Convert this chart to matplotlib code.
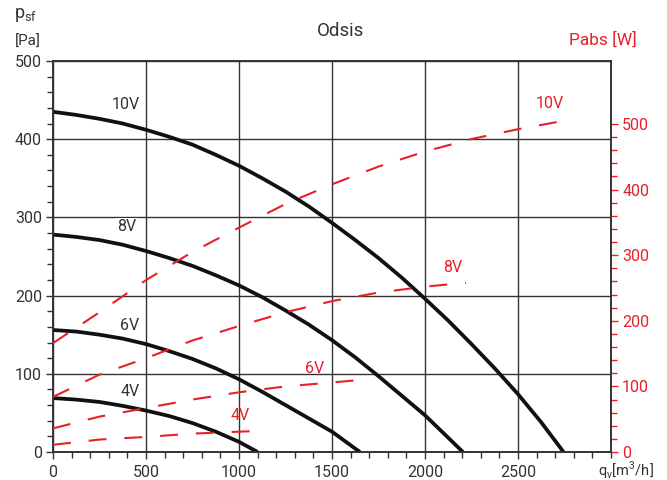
import matplotlib.pyplot as plt
from matplotlib.ticker import MultipleLocator, FixedLocator

plt.rcParams['font.family'] = ['Roboto', 'DejaVu Sans']

ROJO = '#e8202a'
GRIS = '#333333'

# Curvas de presion (p_sf [Pa]) frente a caudal (q_v [m3/h])
q_10v = [0, 125, 250, 375, 500, 625, 750, 875, 1000, 1125, 1250, 1375, 1500, 1625,
         1750, 1875, 2000, 2125, 2250, 2375, 2500, 2625, 2745]
p_10v = [435, 431, 426, 420, 412, 403, 393, 380, 366, 350, 333, 314, 293, 271,
         248, 223, 196, 168, 138, 107, 74, 38, 0]
q_8v = [0, 125, 250, 375, 500, 625, 750, 875, 1000, 1125, 1250, 1375, 1500, 1625,
        1750, 1875, 2000, 2100, 2204]
p_8v = [278, 275, 271, 265, 257, 248, 238, 226, 213, 198, 181, 163, 143, 121,
        97, 72, 47, 24, 0]
q_6v = [0, 125, 250, 375, 500, 625, 750, 875, 1000, 1125, 1250, 1375, 1500, 1575, 1650]
p_6v = [156, 154, 150, 145, 138, 129, 119, 107, 93, 77, 60, 43, 26, 13, 0]
q_4v = [0, 125, 250, 375, 500, 625, 750, 875, 1000, 1100]
p_4v = [69, 67, 64, 59, 53, 46, 37, 26, 13, 0]

# Curvas de potencia absorbida (Pabs [W])
qw_10v = [0, 250, 500, 750, 1000, 1250, 1500, 1750, 2000, 2250, 2500, 2750]
w_10v = [166, 213, 262, 305, 342, 378, 408, 435, 458, 477, 492, 505]
qw_8v = [0, 250, 500, 750, 1000, 1250, 1500, 1750, 2000, 2220]
w_8v = [84, 118, 143, 170, 192, 213, 230, 243, 252, 258]
qw_6v = [0, 250, 500, 750, 1000, 1250, 1500, 1660]
w_6v = [36, 54, 67, 80, 91, 100, 106, 110]
qw_4v = [0, 250, 500, 750, 1000, 1100]
w_4v = [11, 19, 23, 28, 31, 32]

fig = plt.figure(figsize=(6.67, 4.8), dpi=100)
ax = fig.add_axes([0.0795, 0.0583, 0.8365, 0.8147])
ax2 = ax.twinx()

# Presion
for q, p in [(q_10v, p_10v), (q_8v, p_8v), (q_6v, p_6v), (q_4v, p_4v)]:
    ax.plot(q, p, color='#111111', lw=2.7, solid_capstyle='butt', solid_joinstyle='round', zorder=3)

# Potencia
for q, w in [(qw_10v, w_10v), (qw_8v, w_8v), (qw_6v, w_6v), (qw_4v, w_4v)]:
    ax2.plot(q, w, color=ROJO, lw=1.5, dashes=(8.6, 8.6), zorder=3)

# Etiquetas de velocidad
caja = dict(facecolor='white', edgecolor='none', pad=1)
for txt, x, y in [('10V', 392, 444), ('8V', 397, 288), ('6V', 414, 162), ('4V', 414, 77)]:
    ax.text(x, y, txt, color=GRIS, fontsize=11.5, ha='center', va='center', bbox=caja, zorder=4)
for txt, x, y in [('10V', 2669, 531), ('8V', 2148, 281), ('6V', 1407, 128), ('4V', 1004, 55)]:
    ax2.text(x, y, txt, color=ROJO, fontsize=11.5, ha='center', va='center', zorder=4)

ax.set_xlim(0, 3000)
ax.set_ylim(0, 500)
ax2.set_ylim(0, 596)

ax.xaxis.set_major_locator(FixedLocator(range(0, 2501, 500)))
ax.xaxis.set_minor_locator(MultipleLocator(100))
ax.yaxis.set_major_locator(MultipleLocator(100))
ax.yaxis.set_minor_locator(MultipleLocator(20))
ax2.yaxis.set_major_locator(FixedLocator(range(0, 501, 100)))
ax2.yaxis.set_minor_locator(FixedLocator(range(0, 501, 20)))

ax.grid(True, which='major', color=GRIS, lw=1.0)
ax.set_axisbelow(True)
ax.tick_params(which='major', length=5, width=1, color=GRIS, labelcolor=GRIS, labelsize=11.5, pad=3)
ax.tick_params(which='minor', length=4, width=1, color=GRIS)
ax2.tick_params(which='major', length=5, width=1, color=ROJO, labelcolor=ROJO, labelsize=11.5, pad=3)
ax2.tick_params(which='minor', length=4, width=1, color=ROJO)
ax.tick_params(axis='x', pad=4)

for a in (ax, ax2):
    for s in a.spines.values():
        s.set_color(GRIS)
        s.set_linewidth(1.2)

fig.text(0.51, 0.935, 'Odsis', fontsize=13.5, color=GRIS, ha='center', va='center')
fig.text(0.038, 0.969, r'p$_\mathregular{sf}$', fontsize=13, color=GRIS, ha='center', va='center')
fig.text(0.042, 0.9125, '[Pa]', fontsize=11, color=GRIS, ha='center', va='center')
fig.text(0.904, 0.917, 'Pabs [W]', fontsize=12.5, color=ROJO, ha='center', va='center')
fig.text(0.897, 0.008, r'q$_\mathregular{v}$[m$^\mathregular{3}$/h]', fontsize=10.5, color=GRIS,
         ha='left', va='baseline')

fig.savefig('out.png', dpi=100)
